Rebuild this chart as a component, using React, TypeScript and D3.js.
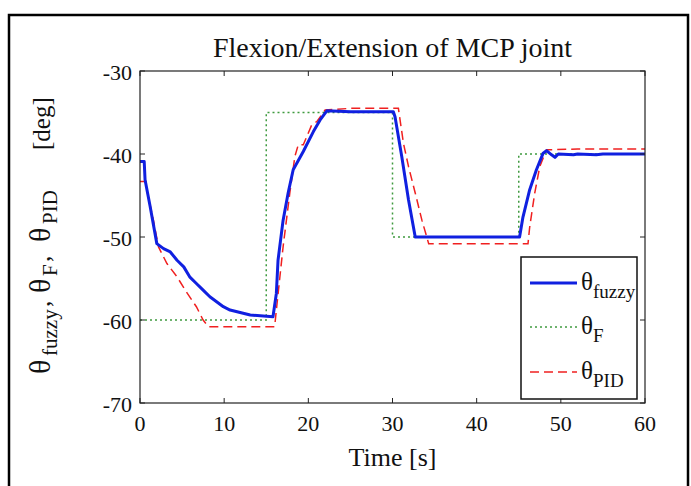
import React from 'react';
import * as d3 from 'd3';

// reference step input
const refT = [0, 15, 30, 45, 60];
const refV = [-60, -35, -50, -40, -40];

// fuzzy controller response
const fuzzyT = [0, 0.5, 0.6, 1.2, 2.0, 2.8, 3.6, 4.4, 5.2, 5.9, 6.7, 7.5, 8.3, 9.1, 9.9, 10.7, 11.9, 13.1, 15.8,
  16.2, 16.4, 17.0, 17.6, 18.2, 19.4, 20.6, 21.4, 22.2, 25, 30.1,
  30.3, 31.1, 31.9, 32.7, 38, 45.1,
  45.5, 46.3, 47.1, 47.9, 48.3, 48.9, 49.3, 49.7, 51.5, 52, 54.2, 55, 60];
const fuzzyV = [-40.9, -40.9, -43.1, -46.3, -50.8, -51.4, -51.8, -52.8, -53.6, -54.8, -55.6, -56.4, -57.2, -57.8, -58.4, -58.8, -59.1, -59.4, -59.6,
  -56.8, -52.8, -48, -44.7, -41.9, -39.7, -37.3, -35.9, -34.8, -34.9, -34.9,
  -35.5, -40.3, -45.5, -50, -50, -50,
  -47.6, -44.3, -41.9, -39.9, -39.6, -40.1, -40.4, -40.0, -40.1, -40.0, -40.1, -40.0, -40.0];

// PID controller response
const pidT = [0, 0.7, 0.8, 1.6, 2.2, 3.2, 4.4, 5.5, 6.7, 7.5, 8.1, 16.0,
  16.2, 17.0, 17.8, 18.4, 18.8, 19.4, 20.4, 21.0, 22.0, 25, 30.7,
  31.3, 31.9, 32.7, 33.5, 34.3, 40, 46.1,
  46.3, 46.9, 47.5, 48.3, 52, 60];
const pidV = [-43.3, -43.3, -44.3, -48, -51.2, -53.2, -54.8, -56.6, -58.4, -60, -60.8, -60.8,
  -58.8, -51.2, -44.7, -40.3, -38.9, -38.9, -36.5, -36.1, -34.7, -34.5, -34.5,
  -38.7, -41.5, -44.7, -48, -50.8, -50.8, -50.8,
  -48.8, -44.7, -41.5, -39.5, -39.4, -39.4];

const xTicks = [0, 10, 20, 30, 40, 50, 60];
const yTicks = [-30, -40, -50, -60, -70];

const font = '"Liberation Serif", "Times New Roman", serif';

export default function App() {
  const W = 691, H = 486;
  const left = 140, right = 645, top = 71, bottom = 403;

  const x = d3.scaleLinear().domain([0, 60]).range([left, right]);
  const y = d3.scaleLinear().domain([-70, -30]).range([bottom, top]);

  const line = d3.line<[number, number]>().x(d => x(d[0])).y(d => y(d[1]));
  const stepLine = d3.line<[number, number]>().x(d => x(d[0])).y(d => y(d[1])).curve(d3.curveStepAfter);

  const refPath = stepLine(refT.map((t, i) => [t, refV[i]]));
  const fuzzyPath = line(fuzzyT.map((t, i) => [t, fuzzyV[i]]));
  const pidPath = line(pidT.map((t, i) => [t, pidV[i]]));

  const blue = '#1020e0';
  const green = '#3f9a3f';
  const red = '#f02020';

  const lg = { x0: 521, y0: 257, x1: 637, y1: 399 };
  const entries = [
    { y: 283, sub: 'fuzzy', stroke: blue, w: 3, dash: '' },
    { y: 327, sub: 'F', stroke: green, w: 1.5, dash: '2,3' },
    { y: 372, sub: 'PID', stroke: red, w: 1.5, dash: '9,5' },
  ];

  // y label pieces, start position measured from bottom of the label (screen y)
  const yLabel = [
    { s: 'θ', at: 374, sub: false },
    { s: 'fuzzy', at: 356, sub: true },
    { s: ',', at: 307, sub: false },
    { s: 'θ', at: 293, sub: false },
    { s: 'F', at: 276, sub: true },
    { s: ',', at: 262, sub: false },
    { s: 'θ', at: 242, sub: false },
    { s: 'PID', at: 224, sub: true },
    { s: '[deg]', at: 150, sub: false },
  ];

  return (
    <div style={{ position: 'absolute', left: 0, top: 0 }}>
      <svg width={W} height={H} style={{ display: 'block', background: '#fff' }} fontFamily={font}>
        <rect x={9} y={15} width={679} height={485} fill="none" stroke="#000" strokeWidth={2.5} />

        <text x={(left + right) / 2} y={57} textAnchor="middle" fontSize={28} fill="#111">
          Flexion/Extension of MCP joint
        </text>

        {/* series */}
        <path d={refPath || ''} fill="none" stroke={green} strokeWidth={1.5} strokeDasharray="2,3" />
        <path d={pidPath || ''} fill="none" stroke={red} strokeWidth={1.5} strokeDasharray="9,5" />
        <path d={fuzzyPath || ''} fill="none" stroke={blue} strokeWidth={3} strokeLinejoin="round" />

        {/* frame and ticks */}
        <rect x={left} y={top} width={right - left} height={bottom - top} fill="none" stroke="#222" strokeWidth={1.2} />
        {xTicks.map(t => (
          <g key={'x' + t}>
            <line x1={x(t)} x2={x(t)} y1={bottom} y2={bottom - 5} stroke="#222" />
            <line x1={x(t)} x2={x(t)} y1={top} y2={top + 5} stroke="#222" />
            <text x={x(t)} y={bottom + 28} textAnchor="middle" fontSize={22} fill="#111">{t}</text>
          </g>
        ))}
        {yTicks.map(v => (
          <g key={'y' + v}>
            <line x1={left} x2={left + 5} y1={y(v)} y2={y(v)} stroke="#222" />
            <line x1={right} x2={right - 5} y1={y(v)} y2={y(v)} stroke="#222" />
            <text x={132} y={y(v) + 9} textAnchor="end" fontSize={22} fill="#111">{v}</text>
          </g>
        ))}

        {/* axis labels */}
        <text x={(left + right) / 2} y={466} textAnchor="middle" fontSize={26} fill="#111">Time [s]</text>
        <g transform="translate(50,0) rotate(-90)">
          {yLabel.map((p, i) => (
            <text key={i} x={-p.at} y={p.sub ? 7 : 0} fontSize={p.sub ? 21 : (p.s === 'θ' ? 30 : 25)} fill="#111">
              {p.s}
            </text>
          ))}
        </g>

        {/* legend */}
        <rect x={lg.x0} y={lg.y0} width={lg.x1 - lg.x0} height={lg.y1 - lg.y0} fill="#fff" stroke="#111" strokeWidth={1.5} />
        {entries.map(e => (
          <g key={e.sub}>
            <line x1={530} x2={577} y1={e.y} y2={e.y} stroke={e.stroke} strokeWidth={e.w} strokeDasharray={e.dash} />
            <text x={581} y={e.y + 7} fontSize={25} fill="#111">
              θ<tspan dy={8} fontSize={19}>{e.sub}</tspan>
            </text>
          </g>
        ))}
      </svg>
    </div>
  );
}
